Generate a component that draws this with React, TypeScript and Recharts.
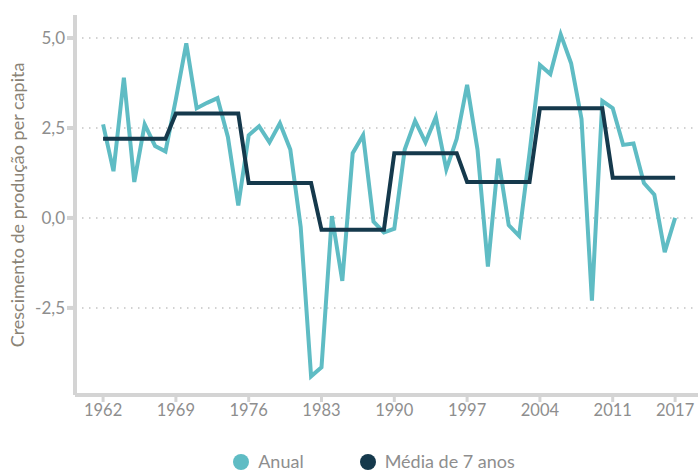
import React from "react";
import { LineChart, Line, XAxis, YAxis, CartesianGrid, Legend } from "recharts";

// Anos (1962-2017)
const years = [
  1962, 1963, 1964, 1965, 1966, 1967, 1968, 1969, 1970, 1971, 1972, 1973, 1974, 1975,
  1976, 1977, 1978, 1979, 1980, 1981, 1982, 1983, 1984, 1985, 1986, 1987, 1988, 1989,
  1990, 1991, 1992, 1993, 1994, 1995, 1996, 1997, 1998, 1999, 2000, 2001, 2002, 2003,
  2004, 2005, 2006, 2007, 2008, 2009, 2010, 2011, 2012, 2013, 2014, 2015, 2016, 2017,
];

// Crescimento anual (%)
const anual = [
  2.6, 1.3, 3.9, 1.0, 2.6, 2.0, 1.85, 3.3, 4.85, 3.05, 3.2, 3.33, 2.25, 0.35,
  2.3, 2.55, 2.1, 2.63, 1.9, -0.25, -4.4, -4.15, 0.05, -1.75, 1.8, 2.3, -0.1, -0.4,
  -0.3, 1.9, 2.7, 2.1, 2.8, 1.35, 2.2, 3.7, 1.9, -1.35, 1.65, -0.2, -0.5, 1.8,
  4.25, 4.0, 5.1, 4.3, 2.75, -2.3, 3.25, 3.05, 2.03, 2.07, 0.97, 0.65, -0.95, 0.0,
];

// Média de cada bloco de 7 anos
const media7 = [2.2, 2.9, 0.97, -0.33, 1.8, 1.0, 3.05, 1.12];

const xTicks = [1962, 1969, 1976, 1983, 1990, 1997, 2004, 2011, 2017];
const yTicks = [-2.5, 0, 2.5, 5];

const TEAL = "#5fbcc4";
const NAVY = "#15394c";
const AXIS = "#d4d4d4";
const TEXT = "#8e8e8e";

const data = years.map((year, i) => ({
  year,
  anual: anual[i],
  media: media7[Math.floor(i / 7)],
}));

const fmt = (v: number) => v.toFixed(1).replace(".", ",");

function LegendContent() {
  const items = [
    { label: "Anual", color: TEAL },
    { label: "Média de 7 anos", color: NAVY },
  ];
  return (
    <div style={{ display: "flex", justifyContent: "center", gap: 56, paddingLeft: 50, paddingTop: 31, height: 21 }}>
      {items.map((it) => (
        <div key={it.label} style={{ display: "flex", alignItems: "center", gap: 9, height: 21 }}>
          <span style={{ width: 16, height: 16, borderRadius: "50%", background: it.color, display: "inline-block" }} />
          <span style={{ color: TEXT, fontSize: 18, lineHeight: "21px" }}>{it.label}</span>
        </div>
      ))}
    </div>
  );
}

export default function App() {
  return (
    <div style={{ position: "absolute", left: 0, top: 0, width: 698, height: 472, fontFamily: "Lato, sans-serif" }}>
      <LineChart width={698} height={472} data={data} margin={{ top: 15, right: 0, left: 0, bottom: 0 }}>
        <CartesianGrid
          vertical={false}
          horizontalValues={yTicks}
          stroke="#c4c4c4"
          strokeWidth={1.5}
          strokeDasharray="1.5 5.5"
        />
        <XAxis
          dataKey="year"
          type="number"
          domain={[1959.3, 2019.2]}
          ticks={xTicks}
          height={25}
          axisLine={{ stroke: AXIS, strokeWidth: 4 }}
          tickLine={{ stroke: AXIS, strokeWidth: 3 }}
          tickSize={7}
          tick={{ fill: TEXT, fontSize: 16.5 }}
          allowDataOverflow
        />
        <YAxis
          type="number"
          domain={[-4.92, 5.64]}
          ticks={yTicks}
          width={75}
          tickFormatter={fmt}
          axisLine={{ stroke: AXIS, strokeWidth: 4 }}
          tickLine={{ stroke: AXIS, strokeWidth: 4 }}
          tickSize={8}
          tick={{ fill: TEXT, fontSize: 17 }}
          allowDataOverflow
          label={{
            value: "Crescimento de produção per capita",
            angle: -90,
            position: "insideLeft",
            offset: 18,
            style: { fill: "#8a8376", fontSize: 18, textAnchor: "middle" },
          }}
        />
        <Legend verticalAlign="bottom" height={52} content={<LegendContent />} />
        <Line type="linear" dataKey="anual" name="Anual" stroke={TEAL} strokeWidth={4} dot={false} isAnimationActive={false} />
        <Line type="linear" dataKey="media" name="Média de 7 anos" stroke={NAVY} strokeWidth={4} dot={false} isAnimationActive={false} />
      </LineChart>
    </div>
  );
}
